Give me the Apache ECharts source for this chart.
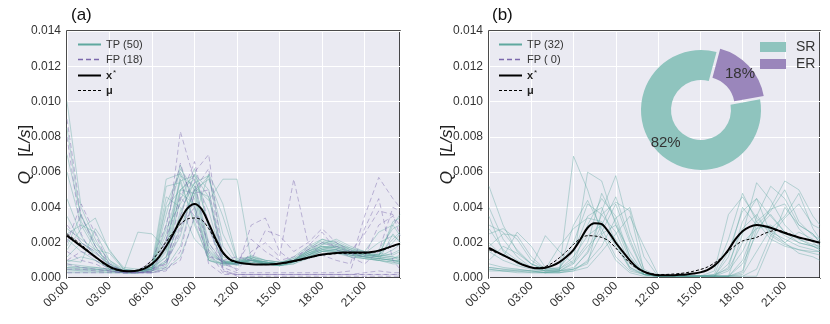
<!DOCTYPE html>
<html>
<head>
<meta charset="utf-8">
<script src="https://cdn.jsdelivr.net/npm/echarts@6/dist/echarts.min.js"></script>
<style>
  html, body { margin: 0; padding: 0; background: #fff; }
  #main { width: 830px; height: 324px; }
</style>
</head>
<body>
<div id="main"></div>
<script>
// hours of the hourly traces (last point 23:30)
var hrs = [0,1,2,3,4,5,6,7,8,9,10,11,12,13,14,15,16,17,18,19,20,21,22,23,23.5];
// half-hourly time for the mean curves
var half = [0,0.5,1,1.5,2,2.5,3,3.5,4,4.5,5,5.5,6,6.5,7,7.5,8,8.5,9,9.5,10,10.5,11,11.5,
            12,12.5,13,13.5,14,14.5,15,15.5,16,16.5,17,17.5,18,18.5,19,19.5,20,20.5,21,21.5,22,22.5,23,23.5];
var yTicks = [0, 0.002, 0.004, 0.006, 0.008, 0.010, 0.012, 0.014];

// values in mL/s (x 1e-3 L/s)
var tpA = [
  [10.0,4.0,2.2,0.8,0.4,0.4,0.6,2.5,5.5,5.8,3.0,0.9,0.8,1.0,0.8,0.7,0.9,1.4,1.8,1.6,1.3,1.2,1.1,1.0,1.0],
  [8.5,3.2,1.8,0.6,0.4,0.3,0.5,4.2,6.0,4.5,1.2,0.8,0.9,1.2,0.9,0.8,1.0,1.6,2.0,1.7,1.4,1.3,1.6,2.8,3.0],
  [2.5,3.0,2.6,1.0,0.4,0.4,0.8,5.6,5.9,3.8,1.0,0.7,0.8,1.1,0.8,0.8,1.1,1.7,2.1,1.8,1.5,1.4,1.2,1.1,1.2],
  [0.6,0.5,0.5,0.4,0.3,0.3,0.4,1.5,3.5,5.9,5.0,1.2,0.9,1.0,0.9,0.8,0.9,1.3,1.6,1.5,1.2,1.1,1.0,0.9,0.9],
  [0.8,0.7,0.6,0.5,0.4,0.4,0.5,0.9,2.4,5.2,4.4,5.6,5.6,1.0,0.8,0.7,0.8,1.2,1.5,1.6,1.4,1.2,1.3,2.2,2.6],
  [1.6,2.8,3.4,1.5,0.6,0.5,0.6,3.0,6.2,5.0,1.6,0.9,1.0,1.2,1.0,0.9,1.0,1.5,1.9,2.0,1.6,1.3,1.2,3.2,3.4],
  [0.4,0.4,0.4,0.3,0.3,0.3,0.4,0.7,3.8,5.4,5.8,1.8,0.8,0.9,0.8,0.7,0.8,1.1,1.3,1.4,1.3,1.2,1.1,1.0,0.9],
  [3.5,2.0,1.5,0.7,0.4,2.6,2.5,1.6,4.8,4.2,1.0,0.8,0.9,1.0,0.8,0.8,1.2,1.8,2.2,1.9,1.5,1.4,2.0,2.4,2.1],
  [1.0,0.9,2.8,1.6,0.5,0.4,0.5,2.2,5.0,5.6,3.8,1.0,0.9,1.1,0.8,0.7,0.9,1.3,1.7,1.8,1.6,1.5,1.4,1.3,1.5],
  [0.5,0.5,0.5,0.4,0.3,0.3,0.4,0.6,1.8,4.8,5.8,2.5,0.9,1.0,0.9,0.8,0.9,1.2,1.5,1.5,1.3,1.1,1.0,0.8,0.8],
  [6.0,3.0,1.6,1.4,0.5,0.4,0.6,5.2,5.4,3.2,1.0,0.8,0.8,1.0,0.9,0.8,1.0,1.4,1.7,1.6,1.4,1.2,1.0,2.5,2.0],
  [0.9,1.2,1.0,0.5,0.3,0.3,0.5,1.2,4.4,6.2,2.8,0.9,0.8,1.0,0.9,0.8,1.0,1.5,2.0,2.1,1.7,1.4,1.3,1.2,1.0],
  [0.3,0.3,0.3,0.3,0.3,0.3,0.3,0.5,1.2,3.4,5.9,4.2,1.1,1.2,1.0,0.9,1.0,1.3,1.6,1.8,1.5,1.3,1.2,1.6,1.9],
  [2.2,1.5,1.0,0.6,0.4,0.4,0.6,4.6,4.0,2.2,1.4,0.9,0.8,0.9,0.8,0.7,0.9,1.3,1.6,1.5,1.3,1.2,1.1,1.0,0.9],
  [1.2,2.0,1.4,0.8,0.4,0.4,0.5,1.0,5.0,5.8,4.6,1.0,0.7,0.9,0.8,0.7,0.9,1.2,1.9,2.2,1.8,1.5,1.3,3.0,3.6],
  [0.7,0.6,0.6,0.5,0.4,0.4,0.5,1.6,5.6,3.0,1.1,0.8,0.8,1.3,1.0,0.9,1.1,1.5,1.8,1.7,1.5,1.4,1.3,1.2,1.1],
  [4.5,2.4,1.2,0.5,0.3,0.3,0.5,3.6,6.4,4.0,1.3,0.9,0.8,1.0,0.8,0.8,1.0,1.6,2.2,2.0,1.6,1.4,1.2,1.1,1.3],
  [1.8,3.6,1.8,0.7,0.4,0.4,0.6,2.8,4.2,5.4,2.0,0.9,1.0,1.1,0.9,0.8,1.0,1.4,1.7,1.9,1.7,1.5,2.6,3.0,2.4],
  [0.5,0.4,0.4,0.4,0.3,0.3,0.4,0.9,2.8,5.0,5.6,3.5,1.0,1.0,0.9,0.8,0.9,1.2,1.5,1.6,1.4,1.2,1.1,1.0,1.0],
  [7.0,3.5,2.0,1.0,0.5,0.4,0.5,1.8,5.8,5.2,1.8,0.8,0.8,1.1,0.9,0.8,1.0,1.5,1.8,1.7,1.5,1.3,1.2,1.4,1.6],
  [0.6,0.6,0.5,0.5,0.4,0.4,0.5,4.0,5.0,4.8,1.5,0.9,0.9,1.0,0.9,0.8,1.0,1.4,1.6,1.6,1.4,1.3,1.3,2.0,2.5],
  [2.8,2.2,1.6,0.9,0.4,0.4,0.6,1.2,3.2,5.0,4.6,1.4,0.8,1.0,0.8,0.7,0.9,1.3,1.5,1.4,1.2,1.1,1.0,0.9,0.8]
];
var fpA = [
  [9.0,3.5,1.8,0.8,0.4,0.3,0.3,2.0,8.3,5.5,1.5,0.3,0.2,0.2,0.2,0.2,0.2,0.2,0.2,0.2,0.2,0.3,0.4,0.3,0.3],
  [2.0,4.2,2.5,0.7,0.4,0.3,0.4,1.0,3.5,6.0,7.0,1.0,0.4,1.5,2.0,1.2,5.6,2.0,1.3,1.0,0.8,3.5,5.7,4.5,4.0],
  [8.0,2.5,1.0,0.5,0.4,0.4,1.0,3.0,6.5,4.0,0.8,0.2,0.2,0.2,0.2,0.2,0.2,0.2,0.2,0.2,0.2,0.2,0.2,0.2,0.2],
  [0.5,0.5,0.4,0.4,0.3,0.3,0.3,0.6,4.5,6.6,3.0,0.8,0.5,3.0,3.4,1.5,0.9,1.8,2.6,1.6,1.2,0.8,1.5,4.0,3.8],
  [1.0,1.5,1.2,0.6,0.3,0.3,0.4,0.8,2.6,5.0,6.2,0.5,0.1,0.1,0.1,0.1,0.1,0.1,0.1,0.1,0.1,0.1,0.1,0.1,0.1],
  [0.8,0.6,0.5,0.4,0.3,0.3,0.4,2.2,4.6,3.5,1.2,1.0,1.2,1.0,2.7,2.4,1.5,2.0,2.8,2.0,1.5,2.5,3.8,3.6,2.4],
  [0.3,0.3,0.3,0.3,0.3,0.3,0.3,0.4,1.5,4.8,5.0,0.6,0.3,0.3,0.3,0.3,0.3,0.3,0.3,0.3,0.4,2.8,4.5,1.0,0.5],
  [3.0,2.0,1.5,0.6,0.4,0.4,0.5,0.8,3.0,4.0,2.0,0.8,0.8,2.2,1.5,1.0,1.2,1.6,2.0,1.8,1.4,1.2,3.0,3.5,3.0],
  [1.5,1.0,0.8,0.4,0.3,0.3,0.3,0.5,1.0,3.5,3.0,0.4,0.2,0.2,0.2,0.2,0.2,0.2,0.2,0.2,0.2,0.2,0.2,0.2,0.2]
];
var xStarA = [2.4,2.1,1.8,1.5,1.2,0.9,0.65,0.48,0.4,0.38,0.42,0.55,0.8,1.2,1.8,2.5,3.3,3.95,4.2,3.9,3.1,2.2,1.45,1.05,
              0.9,0.82,0.78,0.76,0.76,0.78,0.82,0.88,0.96,1.05,1.15,1.25,1.33,1.38,1.42,1.44,1.45,1.45,1.45,1.48,1.55,1.68,1.82,1.95];
var muA = [2.5,2.2,1.9,1.55,1.2,0.85,0.6,0.45,0.38,0.38,0.45,0.65,1.0,1.5,2.05,2.6,3.05,3.35,3.4,3.3,2.8,2.1,1.4,1.0,
           0.88,0.82,0.78,0.76,0.76,0.78,0.8,0.86,0.93,1.02,1.12,1.22,1.3,1.35,1.38,1.4,1.4,1.4,1.4,1.45,1.52,1.65,1.8,1.92];

var tpB = [
  [5.2,3.0,1.5,0.8,0.5,0.6,1.5,3.5,4.0,2.0,0.5,0.2,0.1,0.1,0.1,0.1,0.1,0.6,3.2,4.5,3.5,2.6,2.0,1.8,1.6],
  [0.5,0.4,0.4,0.3,0.3,0.4,6.9,5.0,2.5,1.0,0.3,0.1,0.1,0.1,0.1,0.1,0.1,0.1,0.4,3.5,5.2,4.5,3.0,2.5,2.0],
  [4.0,2.2,1.2,0.6,0.4,0.5,1.0,6.0,5.5,3.0,1.0,0.2,0.1,0.1,0.1,0.1,0.2,2.2,4.8,3.2,2.2,1.8,1.6,1.5,1.5],
  [0.6,0.5,0.4,0.4,0.3,0.3,0.5,1.5,3.6,4.3,3.8,0.4,0.1,0.1,0.1,0.1,0.1,0.1,0.8,2.5,4.0,5.5,5.0,3.5,3.0],
  [2.5,2.8,2.2,1.0,0.5,0.5,1.2,2.4,3.0,2.2,0.6,0.2,0.1,0.1,0.1,0.1,0.2,0.5,2.0,2.8,3.0,2.4,2.0,1.8,1.7],
  [1.0,1.8,1.4,0.8,0.4,0.4,0.9,2.0,4.8,3.2,1.2,0.2,0.1,0.1,0.1,0.1,0.1,0.1,0.3,2.8,3.6,2.6,2.2,1.9,1.8],
  [3.5,1.5,0.8,0.6,2.4,1.5,0.8,1.8,2.6,4.2,2.0,0.3,0.1,0.1,0.1,0.1,0.1,1.5,3.8,4.5,2.5,2.0,1.4,1.2,1.0],
  [0.4,0.4,0.3,0.3,0.3,0.3,0.4,0.6,1.5,2.5,3.5,1.8,0.2,0.1,0.1,0.1,0.1,0.1,0.1,0.5,2.4,3.4,4.2,3.0,2.8],
  [2.0,1.2,2.6,1.8,0.6,0.5,3.0,4.4,2.8,1.2,0.4,0.2,0.1,0.1,0.1,0.1,0.4,3.6,4.6,3.4,2.6,2.2,1.8,1.6,1.5],
  [0.8,0.6,0.5,0.4,0.3,0.4,0.6,1.4,3.0,4.6,2.2,0.3,0.1,0.1,0.1,0.1,0.1,0.1,1.0,3.0,3.8,5.0,3.2,2.4,2.2],
  [3.0,2.6,1.6,0.8,0.5,1.8,2.8,3.4,3.2,1.8,0.6,0.2,0.1,0.1,0.1,0.1,0.1,0.8,2.8,3.6,2.4,1.9,1.6,1.4,1.3],
  [1.5,1.0,0.7,0.5,0.4,0.4,0.5,0.9,1.8,3.4,4.0,1.2,0.1,0.1,0.1,0.1,0.1,0.1,0.2,1.5,2.8,3.5,4.8,2.8,2.2],
  [0.5,0.4,0.4,0.4,0.3,0.3,0.4,1.0,2.5,3.0,1.5,0.2,0.1,0.1,0.1,0.1,0.1,0.1,0.1,0.1,2.0,4.0,3.0,2.5,2.0],
  [1.8,2.5,2.4,1.2,0.5,0.5,2.0,4.2,3.6,2.6,0.8,0.2,0.1,0.1,0.1,0.1,0.1,1.2,4.0,3.0,2.8,2.0,2.6,2.2,1.8],
  [0.6,0.5,0.5,0.4,0.4,0.4,0.5,0.8,3.8,5.8,2.6,0.5,0.1,0.1,0.1,0.1,0.1,0.1,2.5,5.4,4.4,3.0,2.2,1.8,1.6],
  [2.8,1.6,1.0,0.6,0.4,0.4,0.8,3.0,4.5,3.5,1.2,0.2,0.1,0.1,0.1,0.1,0.1,0.4,1.5,3.2,3.9,4.2,2.8,2.0,1.7]
];
var xStarB = [1.7,1.5,1.3,1.1,0.9,0.72,0.6,0.55,0.58,0.7,0.9,1.2,1.6,2.2,2.85,3.1,3.05,2.6,2.0,1.5,1.0,0.6,0.36,0.22,
              0.16,0.15,0.16,0.18,0.2,0.25,0.32,0.45,0.7,1.1,1.6,2.2,2.65,2.9,3.0,2.95,2.85,2.7,2.55,2.42,2.3,2.2,2.1,2.0];
var muB = [1.6,1.45,1.3,1.1,0.9,0.72,0.6,0.58,0.65,0.85,1.15,1.5,1.9,2.25,2.4,2.38,2.3,2.1,1.7,1.25,0.85,0.55,0.35,0.25,
           0.2,0.2,0.22,0.25,0.3,0.38,0.48,0.62,0.85,1.15,1.5,1.85,2.1,2.2,2.3,2.5,2.65,2.7,2.6,2.45,2.3,2.2,2.1,2.0];

var pieNames = ['ER', 'SR'];
var pieShare = [18, 82];

var TEAL = '#5fa89f', PURPLE = '#7b68ad', SR_COL = '#8fc4be', ER_COL = '#9a86bb';
var FONT = 'Liberation Sans';

function pts(xs, vals) {
  return vals.map(function (v, i) { return [xs[i], v / 1000]; });
}
function hhmm(v) { return (v < 10 ? '0' : '') + v + ':00'; }

function xAxisFor(gi) {
  return {
    type: 'value', gridIndex: gi, min: 0, max: 23.5, interval: 3,
    axisLine: { show: false }, axisTick: { show: false },
    splitLine: { show: true, lineStyle: { color: '#fff', width: 1 } },
    axisLabel: { rotate: 45, fontFamily: FONT, fontSize: 12, color: '#333', margin: 6,
      showMaxLabel: false, formatter: function (v) { return hhmm(v); } }
  };
}
function yAxisFor(gi) {
  return {
    type: 'value', gridIndex: gi, min: yTicks[0], max: yTicks[yTicks.length - 1], interval: 0.002,
    axisLine: { show: false }, axisTick: { show: false },
    splitLine: { show: true, lineStyle: { color: '#fff', width: 1 } },
    axisLabel: { fontFamily: FONT, fontSize: 12, color: '#333', margin: 6,
      formatter: function (v) { return v.toFixed(3); } },
    name: '{i|Q}{n|   [}{i|L/s}{n|]}', nameLocation: 'middle', nameGap: 33, nameRotate: 90,
    nameMoveOverlap: false,
    nameTextStyle: { rich: {
      i: { fontFamily: FONT, fontSize: 17, fontStyle: 'italic', color: '#222' },
      n: { fontFamily: FONT, fontSize: 17, color: '#222' } } }
  };
}

var series = [];
function addLines(list, name, color, dashed, gi) {
  list.forEach(function (vals) {
    series.push({ type: 'line', name: name, xAxisIndex: gi, yAxisIndex: gi, data: pts(hrs, vals),
      symbol: 'none', silent: true,
      lineStyle: { color: color, width: 1, opacity: dashed ? 0.45 : 0.4, type: dashed ? [5, 3] : 'solid' },
      itemStyle: { color: color } });
  });
}
addLines(tpA, 'TP (50)', TEAL, false, 0);
addLines(fpA, 'FP (18)', PURPLE, true, 0);
addLines(tpB, 'TP (32)', TEAL, false, 1);
series.push({ type: 'line', name: 'FP ( 0)', xAxisIndex: 1, yAxisIndex: 1, data: [], symbol: 'none',
  lineStyle: { color: PURPLE, width: 1.5, type: [5, 3] }, itemStyle: { color: PURPLE } });

[[xStarA, muA, 0], [xStarB, muB, 1]].forEach(function (p) {
  series.push({ type: 'line', name: 'xs', xAxisIndex: p[2], yAxisIndex: p[2], data: pts(half, p[0]),
    symbol: 'none', smooth: 0.3, silent: true, z: 5,
    lineStyle: { color: '#000', width: 2 }, itemStyle: { color: '#000' } });
  series.push({ type: 'line', name: 'mu', xAxisIndex: p[2], yAxisIndex: p[2], data: pts(half, p[1]),
    symbol: 'none', smooth: 0.3, silent: true, z: 6,
    lineStyle: { color: '#000', width: 1, type: [3, 2] }, itemStyle: { color: '#000' } });
});

series.push({
  type: 'pie', center: [701, 110], radius: [30, 60], startAngle: 75, clockwise: true,
  selectedMode: 'multiple', selectedOffset: 5, silent: true, z: 10,
  label: { show: true, position: 'inside', fontFamily: FONT, fontSize: 15, color: '#333',
    formatter: function (p) { return p.value + '%'; } },
  labelLine: { show: false },
  data: pieNames.map(function (n, i) {
    return { name: n, value: pieShare[i], selected: n === 'ER',
      itemStyle: { color: n === 'ER' ? ER_COL : SR_COL } };
  })
});

function lineLegend(left, names) {
  return {
    left: left, top: 39, padding: 0, orient: 'vertical', itemWidth: 23, itemHeight: 10, itemGap: 4,
    selectedMode: false,
    data: names.map(function (n) {
      var st = { width: 2, opacity: 1 };
      if (n.indexOf('FP') === 0) { st.type = [5, 3]; st.width = 1.5; }
      if (n === 'mu') { st.type = [3, 2]; st.width = 1; }
      return { name: n, lineStyle: st, itemStyle: { opacity: 0 } };
    }),
    textStyle: { fontFamily: FONT, fontSize: 11, color: '#333', rich: {
      b: { fontFamily: FONT, fontSize: 11, fontWeight: 'bold', color: '#222' },
      s: { fontFamily: FONT, fontSize: 8, color: '#222', verticalAlign: 'top', padding: [0, 0, 5, 1] } } },
    formatter: function (n) {
      if (n === 'xs') return '{b|x}{s|*}';
      if (n === 'mu') return '{b|\u03bc}';
      return n;
    }
  };
}

var chart = echarts.init(document.getElementById('main'), null, { renderer: 'canvas' });
chart.setOption({
  animation: false,
  backgroundColor: '#fff',
  title: [
    { text: '(a)', left: 66, top: 2, textStyle: { fontFamily: FONT, fontSize: 17, fontWeight: 'normal', color: '#111' } },
    { text: '(b)', left: 487, top: 2, textStyle: { fontFamily: FONT, fontSize: 17, fontWeight: 'normal', color: '#111' } }
  ],
  grid: [
    { left: 67, top: 31, width: 333, height: 247, show: true, backgroundColor: '#eaeaf2', borderColor: '#111', borderWidth: 1.5 },
    { left: 489, top: 31, width: 331, height: 247, show: true, backgroundColor: '#eaeaf2', borderColor: '#111', borderWidth: 1.5 }
  ],
  xAxis: [xAxisFor(0), xAxisFor(1)],
  yAxis: [yAxisFor(0), yAxisFor(1)],
  legend: [
    lineLegend(77, ['TP (50)', 'FP (18)', 'xs', 'mu']),
    lineLegend(498, ['TP (32)', 'FP ( 0)', 'xs', 'mu']),
    { left: 760, top: 40, padding: 0, orient: 'vertical', itemWidth: 26, itemHeight: 10, itemGap: 3, icon: 'rect',
      selectedMode: false, data: ['SR', 'ER'],
      textStyle: { fontFamily: FONT, fontSize: 14, color: '#333', padding: [0, 0, 0, 5] } }
  ],
  series: series
});
</script>
</body>
</html>
